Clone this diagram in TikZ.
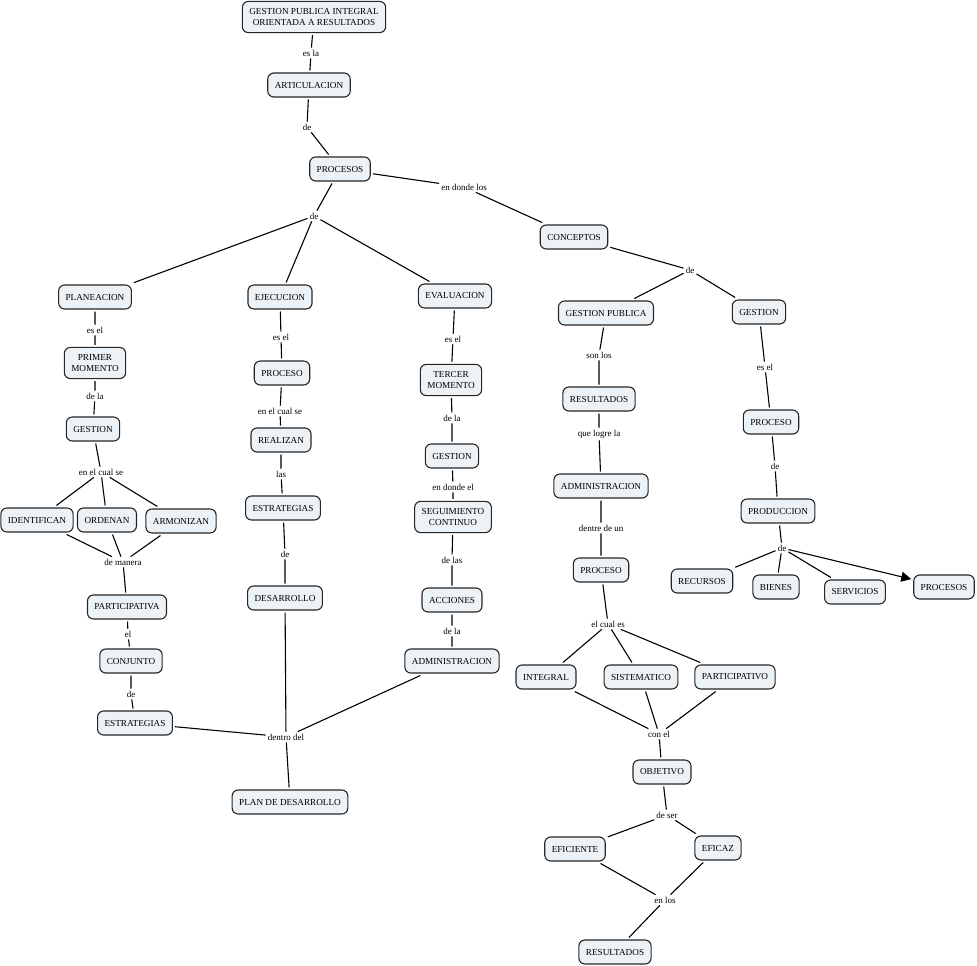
\documentclass[tikz,border=0pt]{standalone}
\usepackage{fontspec}
\setmainfont{Liberation Serif}
\usetikzlibrary{arrows.meta}
\definecolor{cfill}{RGB}{236,242,245}
\begin{document}
\begin{tikzpicture}[
    x=1pt, y=-1pt,
    concept/.style={rectangle, rounded corners=6pt, draw=black!85, line width=1.1pt, fill=cfill,
      inner xsep=7pt, inner ysep=7pt, minimum height=24pt, align=center,
      font=\fontsize{9.2}{11}\selectfont, outer sep=2.5pt},
    link/.style={fill=white, inner sep=2pt, font=\fontsize{9}{11}\selectfont},
    line/.style={line width=1.1pt},
    arrow/.style={-{Triangle[length=10pt,width=10pt]}, line width=1.1pt}
]
\useasboundingbox (0,0) rectangle (977,966);
% top of the map
\node[concept] (gpi) at (314,17) {GESTION PUBLICA INTEGRAL\\ORIENTADA A RESULTADOS};
\node[link] (esla) at (311,53) {es la};
\node[concept] (art) at (309,85) {ARTICULACION};
\node[link] (dea) at (307,127) {de};
\node[concept] (proc) at (340,169) {PROCESOS};
\node[link] (dep) at (314,216) {de};
\node[link] (edl) at (464,187) {en donde los};
\node[concept] (conc) at (574,237) {CONCEPTOS};
\node[link] (dec) at (690,270) {de};
% planeacion
\node[concept] (plan) at (95,297) {PLANEACION};
\node[link] (pesel) at (95,330) {es el};
\node[concept] (prim) at (95,363) {PRIMER\\MOMENTO};
\node[link] (pdela) at (95,396) {de la};
\node[concept] (pges) at (93,429) {GESTION};
\node[link] (pcual) at (101,472) {en el cual se};
\node[concept] (iden) at (37,520) {IDENTIFICAN};
\node[concept] (orde) at (107,520) {ORDENAN};
\node[concept] (armo) at (181,521) {ARMONIZAN};
\node[link] (manera) at (123,562) {de manera};
\node[concept] (parta) at (127,607) {PARTICIPATIVA};
\node[link] (pel) at (128,634) {el};
\node[concept] (conj) at (131,661) {CONJUNTO};
\node[link] (pde) at (131,694) {de};
\node[concept] (pest) at (135,723) {ESTRATEGIAS};
% ejecucion
\node[concept] (ejec) at (280,297) {EJECUCION};
\node[link] (eesel) at (281,337) {es el};
\node[concept] (eproc) at (282,373) {PROCESO};
\node[link] (ecual) at (280,411) {en el cual se};
\node[concept] (real) at (281,440) {REALIZAN};
\node[link] (elas) at (281,474) {las};
\node[concept] (eest) at (283,508) {ESTRATEGIAS};
\node[link] (ede) at (285,554) {de};
\node[concept] (desa) at (285,598) {DESARROLLO};
\node[link] (dentro) at (286,737) {dentro del};
\node[concept] (pland) at (290,802) {PLAN DE DESARROLLO};
% evaluacion
\node[concept] (eval) at (455,296) {EVALUACION};
\node[link] (vesel) at (453,339) {es el};
\node[concept] (terc) at (451,380) {TERCER\\MOMENTO};
\node[link] (vdela) at (452,418) {de la};
\node[concept] (vges) at (452,456) {GESTION};
\node[link] (vdonde) at (453,487) {en donde el};
\node[concept] (segu) at (453,517) {SEGUIMIENTO\\CONTINUO};
\node[link] (vlas) at (452,560) {de las};
\node[concept] (acci) at (452,600) {ACCIONES};
\node[link] (vdela2) at (452,631) {de la};
\node[concept] (vadm) at (452,661) {ADMINISTRACION};
% gestion publica
\node[concept] (gpub) at (606,313) {GESTION PUBLICA};
\node[link] (sonlos) at (599,355) {son los};
\node[concept] (resu) at (599,399) {RESULTADOS};
\node[link] (logre) at (599,434) {que logre la};
\node[concept] (gadm) at (601,486) {ADMINISTRACION};
\node[link] (dentre) at (601,528) {dentre de un};
\node[concept] (gproc) at (601,570) {PROCESO};
\node[link] (cuales) at (608,624) {el cual es};
\node[concept] (inte) at (546,677) {INTEGRAL};
\node[concept] (sist) at (641,677) {SISTEMATICO};
\node[concept] (parto) at (735,677) {PARTICIPATIVO};
\node[link] (conel) at (659,734) {con el};
\node[concept] (obje) at (662,772) {OBJETIVO};
\node[link] (deser) at (667,815) {de ser};
\node[concept] (efic) at (575,849) {EFICIENTE};
\node[concept] (efca) at (718,848) {EFICAZ};
\node[link] (enlos) at (665,900) {en los};
\node[concept] (resb) at (615,952) {RESULTADOS};
% gestion
\node[concept] (gest) at (759,312) {GESTION};
\node[link] (gesel) at (765,367) {es el};
\node[concept] (rproc) at (771,422) {PROCESO};
\node[link] (rde) at (775,466) {de};
\node[concept] (prod) at (778,511) {PRODUCCION};
\node[link] (rde2) at (782,548) {de};
\node[concept] (recu) at (702,581) {RECURSOS};
\node[concept] (bien) at (776,587) {BIENES};
\node[concept] (serv) at (855,592) {SERVICIOS};
\node[concept] (rprocs) at (944,587) {PROCESOS};
% connectors
\draw[line] (gpi) -- (esla) -- (art) -- (dea) -- (proc) -- (dep);
\draw[line] (dep) -- (plan);
\draw[line] (dep) -- (ejec);
\draw[line] (dep) -- (eval);
\draw[line] (proc) -- (edl) -- (conc) -- (dec);
\draw[line] (dec) -- (gpub);
\draw[line] (dec) -- (gest);
\draw[line] (plan) -- (pesel) -- (prim) -- (pdela) -- (pges) -- (pcual);
\draw[line] (pcual) -- (iden);
\draw[line] (pcual) -- (orde);
\draw[line] (pcual) -- (armo);
\draw[line] (iden) -- (manera);
\draw[line] (orde) -- (manera);
\draw[line] (armo) -- (manera);
\draw[line] (manera) -- (parta) -- (pel) -- (conj) -- (pde) -- (pest) -- (dentro);
\draw[line] (ejec) -- (eesel) -- (eproc) -- (ecual) -- (real) -- (elas) -- (eest) -- (ede) -- (desa) -- (dentro);
\draw[line] (eval) -- (vesel) -- (terc) -- (vdela) -- (vges) -- (vdonde) -- (segu) -- (vlas) -- (acci) -- (vdela2) -- (vadm) -- (dentro);
\draw[line] (dentro) -- (pland);
\draw[line] (gpub) -- (sonlos) -- (resu) -- (logre) -- (gadm) -- (dentre) -- (gproc) -- (cuales);
\draw[line] (cuales) -- (inte);
\draw[line] (cuales) -- (sist);
\draw[line] (cuales) -- (parto);
\draw[line] (inte) -- (conel);
\draw[line] (sist) -- (conel);
\draw[line] (parto) -- (conel);
\draw[line] (conel) -- (obje) -- (deser);
\draw[line] (deser) -- (efic);
\draw[line] (deser) -- (efca);
\draw[line] (efic) -- (enlos);
\draw[line] (efca) -- (enlos);
\draw[line] (enlos) -- (resb);
\draw[line] (gest) -- (gesel) -- (rproc) -- (rde) -- (prod) -- (rde2);
\draw[line] (rde2) -- (recu);
\draw[line] (rde2) -- (bien);
\draw[line] (rde2) -- (serv);
\draw[arrow] (rde2) -- (rprocs);
\end{tikzpicture}
\end{document}
